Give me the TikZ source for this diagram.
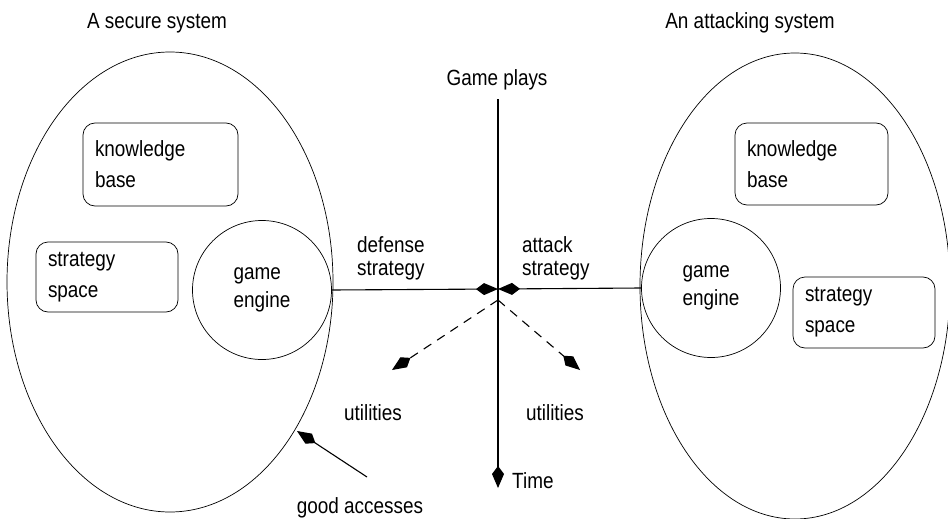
\documentclass[tikz,border=0pt]{standalone}
\usepackage{fontspec}
\setmainfont{Liberation Sans}[FakeStretch=0.86]
\usetikzlibrary{shapes.geometric,arrows.meta}

\begin{document}
\begin{tikzpicture}[x=1pt, y=-1pt, >={Kite[length=22pt,width=12pt,inset=8pt]}]%
  \tikzset{system/.style={draw, ellipse, line width=0.7pt, inner sep=0pt}}
  \tikzset{part box/.style={draw, rounded corners=12pt, line width=0.7pt, inner xsep=12pt, inner ysep=0pt, align=left, text width=#1, font=\fontsize{22}{31}\selectfont}}
  \tikzset{engine/.style={draw, circle, line width=0.7pt, minimum size=139pt, inner sep=0pt, align=left, font=\fontsize{22}{28}\selectfont}}
  \tikzset{normal arrow/.style={draw, ->, line width=1.1pt}}
  \tikzstyle{every node}=[inner sep=0pt, font=\fontsize{22}{23}\selectfont]

  \useasboundingbox (0,0) rectangle (948,519);

  % the two systems
  \node[system, minimum width=326pt, minimum height=460pt] (SEC) at (170,282) {};
  \node[system, minimum width=310pt, minimum height=466pt] (ATT) at (795,286) {};
  \node[anchor=base] (SECt) at (157,29) {A secure system};
  \node[anchor=base] (ATTt) at (750,29) {An attacking system};

  % inside the secure system
  \node[part box=131pt, minimum height=83pt] (KB1) at (160.5,164.5) {knowledge\\base};
  \node[part box=118pt, minimum height=70pt] (SS1) at (107,277) {strategy\\space};
  \node[engine] (GE1) at (262,290) {game\\engine};

  % inside the attacking system
  \node[part box=129pt, minimum height=82pt] (KB2) at (811.5,164) {knowledge\\base};
  \node[part box=118pt, minimum height=71pt] (SS2) at (864,312.5) {strategy\\space};
  \node[engine] (GE2) at (711,288) {game\\engine};

  % axes of the game
  \coordinate (C) at (498,289);
  \coordinate (top) at (498,99);
  \coordinate (time) at (498,488);
  \coordinate (U) at (498,300);
  \coordinate (UL) at (392,370);
  \coordinate (UR) at (580,370);
  \node[anchor=base] (GP) at (497,85) {Game plays};
  \node[anchor=base west] (T) at (512,488) {Time};

  \path[normal arrow] (top) -- (time);
  \path[normal arrow] (GE1.east) -- (C);
  \path[normal arrow] (GE2.west) -- (C);
  \path[normal arrow, dashed, dash pattern=on 9pt off 7pt] (U) -- (UL);
  \path[normal arrow, dashed, dash pattern=on 9pt off 7pt] (U) -- (UR);

  \node[anchor=base west, align=left] (DS) at (357,275) {defense\\strategy};
  \node[anchor=base west, align=left] (AS) at (522,275) {attack\\strategy};
  \node[anchor=base] (UT1) at (373,420) {utilities};
  \node[anchor=base] (UT2) at (555,420) {utilities};

  % good accesses
  \coordinate (GA) at (297,431);
  \node[anchor=base] (GAt) at (360,513) {good accesses};
  \path[normal arrow] (367,477) -- (GA);
\end{tikzpicture}
\end{document}
